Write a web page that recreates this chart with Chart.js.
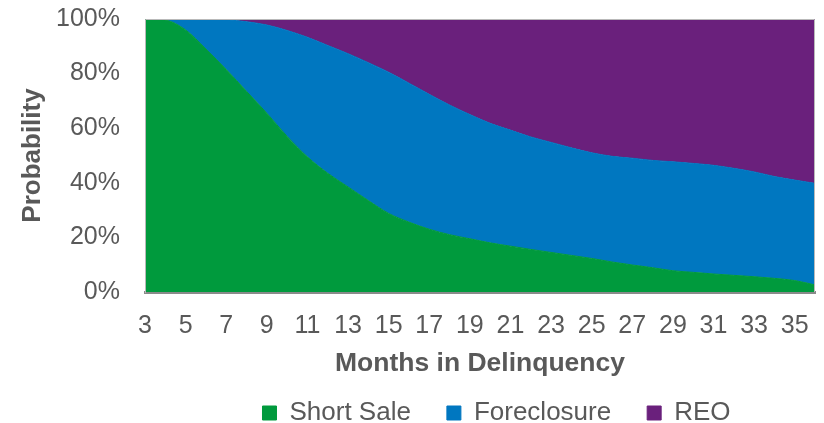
<!DOCTYPE html>
<html>
<head>
<meta charset="utf-8">
<script src="https://cdn.jsdelivr.net/npm/chart.js@4.4.1/dist/chart.umd.min.js"></script>
<style>
  html, body { margin: 0; padding: 0; background: #ffffff; }
  #wrap { width: 824px; height: 423px; position: relative; }
</style>
</head>
<body>
<div id="wrap"><canvas id="c" width="824" height="423"></canvas></div>
<script>
// Months in delinquency (x categories)
const months = [3,4,5,6,7,8,9,10,11,12,13,14,15,16,17,18,19,20,21,22,23,24,25,26,27,28,29,30,31,32,33,34,35,36];
// Probabilities (%) by outcome, stacked to 100%
const shortSale   = [100,99.6,96,89,81.5,73.5,65.5,57,49.5,43.5,38.5,33.5,28.8,25.6,23,21,19.5,18,16.8,15.6,14.5,13.4,12.3,11,9.9,8.9,7.8,7.2,6.6,6.1,5.6,5.0,4.2,2.6];
const foreclosure = [0,0.4,4,11,18.2,25.5,32.3,38.8,43.8,46.8,48.8,50.5,51.7,50.9,49.4,47.5,45.5,43.8,42.5,41.2,40.3,39.4,38.7,38.7,39.1,39.3,39.9,39.9,39.8,39.2,38.4,37.3,36.8,37.2];
const reo         = [0,0,0,0,0.3,1,2.2,4.2,6.7,9.7,12.7,16,19.5,23.5,27.6,31.5,35,38.2,40.7,43.2,45.2,47.2,49,50.3,51,51.8,52.3,52.9,53.6,54.7,56,57.7,59,60.2];
const yTicks = [0,20,40,60,80,100];

const FONT = "'Liberation Sans', Arial, sans-serif";
const TXT = '#595959';

const framePlugin = {
  id: 'frame',
  afterLayout(chart) {
    // place the legend row where the reference has it
    const lg = chart.legend;
    if (lg) { lg.left += 89; lg.right += 89; lg.top += 13; lg.bottom += 13; }
  },
  afterDatasetsDraw(chart) {
    const {ctx, chartArea: a} = chart;
    ctx.save();
    ctx.strokeStyle = '#b9b9b9';
    ctx.lineWidth = 1;
    ctx.beginPath();
    ctx.moveTo(a.left + 0.5, a.bottom);
    ctx.lineTo(a.left + 0.5, a.top + 0.5);
    ctx.lineTo(a.right - 0.5, a.top + 0.5);
    ctx.lineTo(a.right - 0.5, a.bottom);
    ctx.stroke();
    ctx.restore();
  }
};

new Chart(document.getElementById('c'), {
  type: 'line',
  data: {
    labels: months.map(String),
    datasets: [
      { label: 'Short Sale', data: shortSale, backgroundColor: '#009a3d', borderColor: '#009a3d', fill: 'origin' },
      { label: 'Foreclosure', data: foreclosure, backgroundColor: '#0077c0', borderColor: '#0077c0', fill: '-1' },
      { label: 'REO', data: reo, backgroundColor: '#6a207c', borderColor: '#6a207c', fill: '-1' }
    ]
  },
  options: {
    responsive: false,
    animation: false,
    devicePixelRatio: 1,
    layout: { padding: { top: 19, right: 9, bottom: 0, left: 0 } },
    elements: {
      point: { radius: 0 },
      line: { borderWidth: 1, tension: 0.4, cubicInterpolationMode: 'monotone' }
    },
    plugins: {
      legend: {
        position: 'bottom',
        labels: {
          font: { family: FONT, size: 26 },
          color: TXT,
          boxWidth: 14,
          boxHeight: 14,
          padding: 36
        }
      },
      tooltip: { enabled: false }
    },
    scales: {
      x: {
        stacked: true,
        grid: { display: true, drawOnChartArea: false, drawTicks: true, tickLength: 19, tickColor: 'rgba(0,0,0,0)', color: 'rgba(0,0,0,0)' },
        border: { display: true, color: '#8a8a8a', width: 3 },
        ticks: {
          autoSkip: false,
          maxRotation: 0,
          padding: 0,
          font: { family: FONT, size: 25 },
          color: TXT,
          callback: function(v, i) { return i % 2 === 0 ? this.getLabelForValue(v) : ''; }
        },
        title: {
          display: true,
          text: 'Months in Delinquency',
          font: { family: FONT, size: 26.5, weight: 'bold' },
          color: TXT,
          padding: { top: 0, bottom: -29 }
        },
        afterFit: function(s) { s.height = 59; }
      },
      y: {
        stacked: true,
        min: 0,
        max: 100,
        afterBuildTicks: function(s) { s.ticks = yTicks.map(v => ({ value: v })); },
        grid: { display: true, drawOnChartArea: false, drawTicks: true, tickLength: 25, tickColor: 'rgba(0,0,0,0)', color: 'rgba(0,0,0,0)' },
        border: { display: true, color: '#b9b9b9', width: 1 },
        ticks: {
          padding: 0,
          font: { family: FONT, size: 25 },
          color: TXT,
          callback: v => v + '%'
        },
        title: {
          display: true,
          text: 'Probability',
          font: { family: FONT, size: 26, weight: 'bold' },
          color: TXT,
          padding: { top: 17, bottom: 0 }
        },
        afterFit: function(s) { s.width = 145; }
      }
    }
  },
  plugins: [framePlugin]
});
</script>
</body>
</html>
